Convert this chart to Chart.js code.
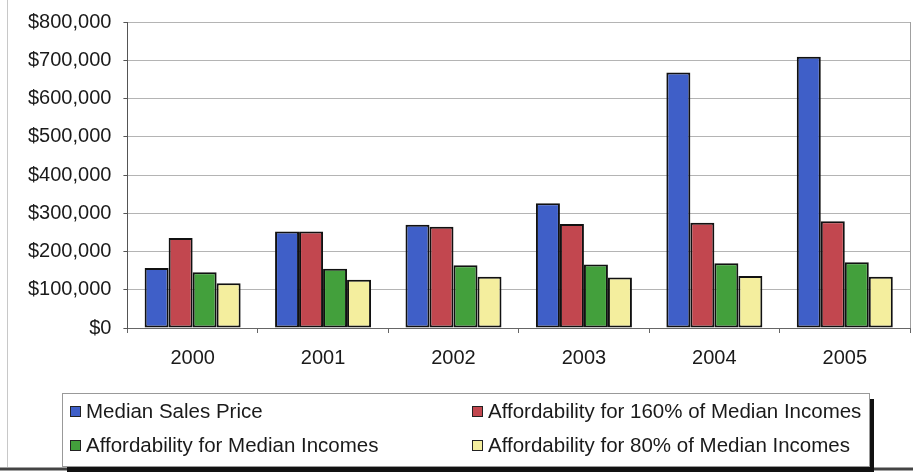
<!DOCTYPE html>
<html>
<head>
<meta charset="utf-8">
<script src="https://cdn.jsdelivr.net/npm/chart.js@4/dist/chart.umd.min.js"></script>
<style>
  html, body { margin: 0; padding: 0; background: #fff; }
  #wrap { width: 913px; height: 472px; }
</style>
</head>
<body>
<div id="wrap"><canvas id="cv"></canvas></div>
<script>
// years on the x axis
const years = ['2000', '2001', '2002', '2003', '2004', '2005'];

// series values (dollars)
const medianSalesPrice = [157000, 252000, 270000, 326000, 668000, 709000];
const afford160 = [235000, 252000, 265000, 272000, 275000, 279000];
const affordMedian = [146000, 155000, 164000, 166000, 169000, 172000];
const afford80 = [117000, 126000, 134000, 132000, 136000, 134000];

// y axis range
const yMax = 800000;
const yStep = 100000;

const FONT = '"Liberation Sans", Arial, Helvetica, sans-serif';

// outer frame + right edge of the plot area
const framePlugin = {
    id: 'frame',
    beforeDraw(chart) {
        const ctx = chart.ctx;
        ctx.save();
        ctx.fillStyle = '#fff';
        ctx.fillRect(0, 0, chart.width, chart.height);
        //left border of the sheet
        ctx.strokeStyle = '#c8c8c8';
        ctx.lineWidth = 1;
        ctx.beginPath();
        ctx.moveTo(7.5, 0);
        ctx.lineTo(7.5, 467);
        ctx.stroke();
        //bottom border
        ctx.strokeStyle = '#444';
        ctx.lineWidth = 3;
        ctx.beginPath();
        ctx.moveTo(0, 469);
        ctx.lineTo(chart.width, 469);
        ctx.stroke();
        ctx.restore();
    },
    afterDatasetsDraw(chart) {
        const ctx = chart.ctx;
        const a = chart.chartArea;
        ctx.save();
        ctx.strokeStyle = '#a0a0a0';
        ctx.lineWidth = 1;
        ctx.beginPath();
        ctx.moveTo(Math.round(a.right) + 0.5, a.top);
        ctx.lineTo(Math.round(a.right) + 0.5, a.bottom);
        ctx.stroke();
        ctx.restore();
    }
};

// boxed two-column legend under the chart
const boxLegend = {
    id: 'boxLegend',
    afterDraw(chart) {
        const ctx = chart.ctx;
        const box = { x: 62, y: 393, w: 807, h: 73 };
        const cols = [70, 472];
        const rows = [411, 445];
        ctx.save();
        //shadow
        ctx.fillStyle = '#111';
        ctx.fillRect(box.x + 5, box.y + 6, box.w, box.h);
        ctx.fillStyle = '#fff';
        ctx.fillRect(box.x, box.y, box.w, box.h);
        ctx.strokeStyle = '#999';
        ctx.lineWidth = 1;
        ctx.strokeRect(box.x + 0.5, box.y + 0.5, box.w, box.h);

        ctx.font = '20.5px ' + FONT;
        ctx.textBaseline = 'middle';
        ctx.textAlign = 'left';
        chart.data.datasets.forEach((ds, i) => {
            const x = cols[i % 2];
            const y = rows[Math.floor(i / 2)];
            ctx.fillStyle = ds.backgroundColor;
            ctx.fillRect(x, y - 5, 11, 11);
            ctx.strokeStyle = '#222';
            ctx.strokeRect(x + 0.5, y - 4.5, 10, 10);
            ctx.fillStyle = '#1a1a1a';
            ctx.fillText(ds.label, x + 16, y + 1);
        });
        ctx.restore();
    }
};

function dataset(label, values, color) {
    return {
        label: label,
        data: values,
        backgroundColor: color,
        borderColor: '#111',
        borderWidth: 2,
        borderSkipped: false
    };
}

new Chart(document.getElementById('cv'), {
    type: 'bar',
    data: {
        labels: years,
        datasets: [
            dataset('Median Sales Price', medianSalesPrice, '#3F5FC8'),
            dataset('Affordability for 160% of Median Incomes', afford160, '#C2474F'),
            dataset('Affordability for Median Incomes', affordMedian, '#43A03C'),
            dataset('Affordability for 80% of Median Incomes', afford80, '#F4EE9E')
        ]
    },
    options: {
        responsive: true,
        maintainAspectRatio: false,
        animation: false,
        layout: {
            padding: { left: 16, right: 3, top: 20, bottom: 89 }
        },
        datasets: {
            bar: { categoryPercentage: 0.736, barPercentage: 1.0 }
        },
        plugins: {
            legend: { display: false },
            tooltip: { enabled: false }
        },
        scales: {
            x: {
                grid: {
                    offset: true,
                    drawOnChartArea: false,
                    drawTicks: true,
                    tickLength: 5,
                    tickColor: '#666'
                },
                border: { color: '#666', width: 1 },
                ticks: {
                    padding: 13,
                    color: '#1a1a1a',
                    font: { family: FONT, size: 20 }
                }
            },
            y: {
                min: 0,
                max: yMax,
                grid: {
                    color: '#b4b4b4',
                    drawTicks: true,
                    tickLength: 4,
                    tickColor: '#555'
                },
                border: { color: '#555', width: 1 },
                ticks: {
                    stepSize: yStep,
                    padding: 12,
                    color: '#1a1a1a',
                    font: { family: FONT, size: 20, lineHeight: 1 },
                    callback: v => '$' + v.toLocaleString('en-US')
                }
            }
        }
    },
    plugins: [framePlugin, boxLegend]
});
</script>
</body>
</html>
